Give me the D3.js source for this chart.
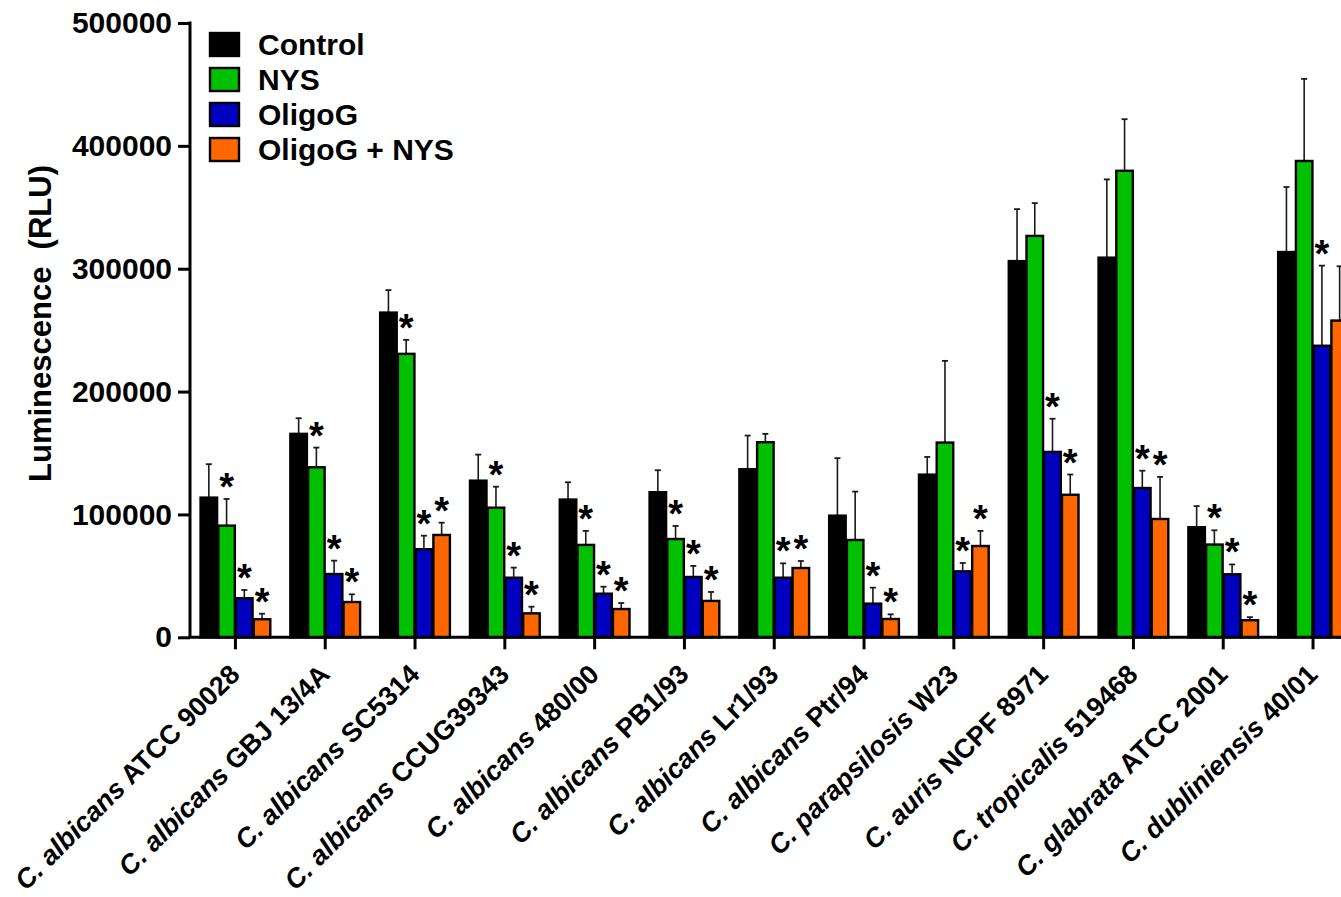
<!DOCTYPE html>
<html>
<head>
<meta charset="utf-8">
<script src="https://cdn.jsdelivr.net/npm/d3@7/dist/d3.min.js"></script>
<style>
  html, body { margin: 0; padding: 0; background: #fff; }
  svg { display: block; }
  text { font-family: "Liberation Sans", Arial, Helvetica, sans-serif; font-weight: bold; }
</style>
</head>
<body>
<svg id="chart" width="1341" height="897"></svg>
<script>
// Candida strains (species in italics, strain designation upright)
const species = ["C. albicans", "C. albicans", "C. albicans", "C. albicans", "C. albicans",
  "C. albicans", "C. albicans", "C. albicans", "C. parapsilosis", "C. auris",
  "C. tropicalis", "C. glabrata", "C. dubliniensis"];
const strains = ["ATCC 90028", "GBJ 13/4A", "SC5314", "CCUG39343", "480/00", "PB1/93",
  "Lr1/93", "Ptr/94", "W23", "NCPF 8971", "519468", "ATCC 2001", "40/01"];

const seriesNames = ["Control", "NYS", "OligoG", "OligoG + NYS"];
const seriesColors = ["#000000", "#00c000", "#0000c0", "#ff6600"];

// Mean luminescence (RLU)
const control = [113700, 165600, 264300, 127500, 112100, 118100, 136800, 99000, 132400, 306200, 309000, 89600, 313600];
const nys     = [90900, 138400, 230700, 105500, 75200, 80000, 158800, 79200, 158500, 326700, 379700, 75500, 387700];
const oligoG  = [31800, 51500, 71700, 48500, 35500, 49100, 48500, 27400, 53700, 150900, 121500, 51300, 237300];
const combo   = [14700, 28700, 83300, 19500, 23000, 29600, 56400, 14900, 74300, 116000, 96300, 13900, 257800];

// Standard deviation (upper error bar only)
const controlSD = [27200, 12700, 18300, 21200, 14100, 17900, 27400, 46800, 14400, 42300, 63700, 17200, 52900];
const nysSD     = [21700, 16000, 11400, 17100, 11400, 10600, 6800, 39400, 66500, 26700, 42000, 11600, 66800];
const oligoGSD  = [6700, 10900, 11000, 8200, 5700, 9000, 11700, 13000, 6800, 27000, 14100, 8000, 65200];
const comboSD   = [4500, 6300, 10000, 5400, 4900, 7300, 5700, 3800, 12300, 16500, 34300, 2500, 44200];

// Significance versus control (1 = marked with *)
const controlSig = [0,0,0,0,0,0,0,0,0,0,0,0,0];
const nysSig     = [1,1,1,1,1,1,0,0,0,0,0,1,0];
const oligoGSig  = [1,1,1,1,1,1,1,1,1,1,1,1,1];
const comboSig   = [1,1,1,1,1,1,1,1,1,1,1,1,0];

const yTicks = [0, 100000, 200000, 300000, 400000, 500000];
const yTitle = "Luminescence  (RLU)";

const means = [control, nys, oligoG, combo];
const sds = [controlSD, nysSD, oligoGSD, comboSD];
const sigs = [controlSig, nysSig, oligoGSig, comboSig];

const svg = d3.select("#chart");

const axisX = 190, baseY = 637.3, topY = 23;
const step = 89.8;
const x0 = d3.scaleBand()
  .domain(strains)
  .paddingInner(0.21)
  .paddingOuter(0.111)
  .range([axisX, axisX + step * (strains.length - 0.21 + 2 * 0.111)]);
const x1 = d3.scaleBand().domain(seriesNames).range([0, x0.bandwidth()]).padding(0);
const y = d3.scaleLinear().domain([0, 500000]).range([baseY, topY]);

// bar data
const rows = [];
strains.forEach((s, i) => {
  seriesNames.forEach((n, j) => {
    rows.push({ strain: s, series: n, j, mean: means[j][i], sd: sds[j][i], sig: sigs[j][i] });
  });
});

const g = svg.append("g");
const groups = g.selectAll("g.bar").data(rows).join("g").attr("class", "bar")
  .attr("transform", d => `translate(${x0(d.strain) + x1(d.series)},0)`);

const bw = x1.bandwidth();

// error bars (drawn first so bars cover the stem base)
groups.append("line")
  .attr("x1", bw / 2).attr("x2", bw / 2)
  .attr("y1", d => y(d.mean)).attr("y2", d => y(d.mean + d.sd))
  .attr("stroke", "#1a1a1a").attr("stroke-width", 1.6);
groups.append("line")
  .attr("x1", bw / 2 - 3).attr("x2", bw / 2 + 3)
  .attr("y1", d => y(d.mean + d.sd)).attr("y2", d => y(d.mean + d.sd))
  .attr("stroke", "#1a1a1a").attr("stroke-width", 1.8);

groups.append("rect")
  .attr("x", 0.6).attr("width", bw - 1.2)
  .attr("y", d => y(d.mean)).attr("height", d => baseY - y(d.mean))
  .attr("fill", d => seriesColors[d.j])
  .attr("stroke", "#000").attr("stroke-width", 2.4);

// significance stars
groups.filter(d => d.sig).append("text")
  .attr("x", bw / 2)
  .attr("y", d => y(d.mean + d.sd) + 1)
  .attr("text-anchor", "middle")
  .attr("font-size", 38)
  .text("*");

// y axis
const yAxis = d3.axisLeft(y).tickValues(yTicks).tickSize(12).tickPadding(6).tickFormat(d3.format("d"));
const ya = svg.append("g").attr("transform", `translate(${axisX},0)`).call(yAxis);
ya.select(".domain").attr("d", `M0,${topY - 1.5}V${baseY}`).attr("stroke-width", 3);
ya.selectAll(".tick line").attr("stroke-width", 3);
ya.selectAll(".tick text").attr("font-size", 30).attr("fill", "#000")
  .style("font-family", "'Liberation Sans', Arial, sans-serif").style("font-weight", "bold");

// x axis
const xAxis = d3.axisBottom(x0).tickSize(12).tickFormat("");
const xa = svg.append("g").attr("transform", `translate(0,${baseY})`).call(xAxis);
xa.select(".domain").attr("d", `M${axisX - 1.5},0H1400`).attr("stroke-width", 3);
xa.selectAll(".tick line").attr("stroke-width", 3);

// category labels, rotated
const labels = svg.append("g").selectAll("text").data(strains).join("text")
  .attr("transform", d => `translate(${x0(d) + x0.bandwidth() / 2 + 6},676) rotate(-45)`)
  .attr("text-anchor", "end")
  .attr("font-size", 27);
labels.append("tspan").attr("font-style", "italic").text((d, i) => species[i]);
labels.append("tspan").text(d => " " + d);

// y axis title
svg.append("text")
  .attr("transform", `translate(51,${(162 + 485) / 2}) rotate(-90)`)
  .attr("text-anchor", "middle")
  .attr("font-size", 31)
  .style("white-space", "pre")
  .text(yTitle);

// legend
const legend = svg.append("g").selectAll("g").data(seriesNames).join("g")
  .attr("transform", (d, i) => `translate(210,${33 + i * 35})`);
legend.append("rect").attr("width", 29).attr("height", 23)
  .attr("fill", (d, i) => seriesColors[i]).attr("stroke", "#000").attr("stroke-width", 2.4);
legend.append("text").attr("x", 48).attr("y", 22).attr("font-size", 30).text(d => d);
</script>
</body>
</html>
